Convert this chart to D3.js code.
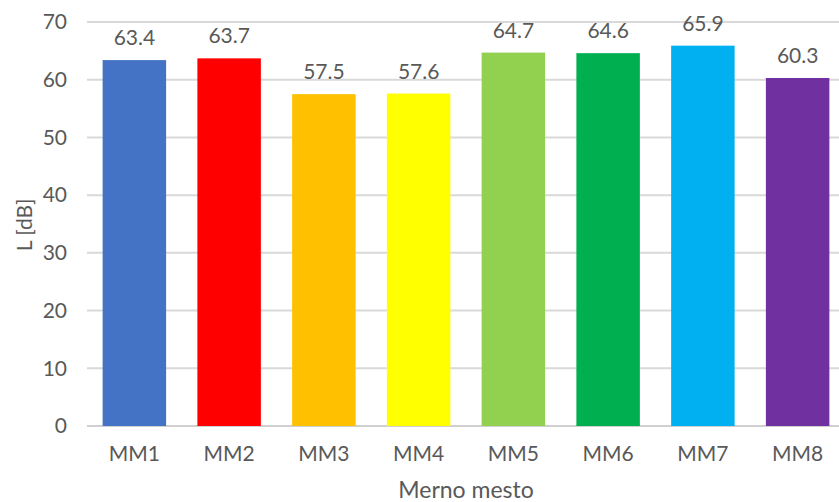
<!DOCTYPE html>
<html>
<head>
<meta charset="utf-8">
<style>
    body { margin: 0; background: white; }
    svg { display: block; font-family: Lato, "Open Sans", sans-serif; }
    .tick text { fill: #595959; }
</style>
<script src="https://cdn.jsdelivr.net/npm/d3@7"></script>
</head>
<body>
<svg id="chart"></svg>
<script>
    // chart data
    let categories = ["MM1", "MM2", "MM3", "MM4", "MM5", "MM6", "MM7", "MM8"]
    let values = [63.4, 63.7, 57.5, 57.6, 64.7, 64.6, 65.9, 60.3]
    let colors = ["#4472C4", "#FF0000", "#FFC000", "#FFFF00", "#92D050", "#00B050", "#00B0F0", "#7030A0"]
    let yTicks = [0, 10, 20, 30, 40, 50, 60, 70]

    let width = 839, height = 502
    let svg = d3.select("#chart").attr("width", width).attr("height", height)

    // plot area runs a bit past the right edge, like the source image
    let x = d3.scaleBand().domain(categories).range([87, 845]).paddingInner(0.33).paddingOuter(0.165)
    let y = d3.scaleLinear().domain([0, 70]).range([426, 22])

    // gridlines
    svg.append("g")
        .selectAll("line")
        .data(yTicks)
        .enter().append("line")
        .attr("x1", 87).attr("x2", 845)
        .attr("y1", d => y(d)).attr("y2", d => y(d))
        .attr("stroke", d => d === 0 ? "#d0d0d0" : "#d9d9d9")
        .attr("stroke-width", 2)

    // y tick labels
    let yAxis = svg.append("g")
        .attr("transform", "translate(67,0)")
        .call(d3.axisLeft(y).tickValues(yTicks).tickSize(0).tickPadding(0))
    yAxis.select(".domain").remove()
    yAxis.selectAll("text").attr("font-size", 21).attr("font-family", "Lato, sans-serif")

    // bars
    svg.append("g")
        .selectAll("rect")
        .data(values)
        .enter().append("rect")
        .attr("x", (d, i) => x(categories[i]))
        .attr("y", d => y(d))
        .attr("width", x.bandwidth())
        .attr("height", d => y(0) - y(d))
        .attr("fill", (d, i) => colors[i])

    // value labels
    svg.append("g")
        .selectAll("text")
        .data(values)
        .enter().append("text")
        .attr("x", (d, i) => x(categories[i]) + x.bandwidth() / 2)
        .attr("y", d => y(d) - 15)
        .attr("text-anchor", "middle")
        .attr("font-size", 21)
        .attr("fill", "#595959")
        .text(d => d.toFixed(1))

    // x tick labels
    let xAxis = svg.append("g")
        .attr("transform", "translate(0,426)")
        .call(d3.axisBottom(x).tickSize(0).tickPadding(20))
    xAxis.select(".domain").remove()
    xAxis.selectAll("text").attr("font-size", 21).attr("font-family", "Lato, sans-serif")

    // axis titles
    svg.append("text")
        .attr("x", 466).attr("y", 498)
        .attr("text-anchor", "middle")
        .attr("font-size", 23)
        .attr("fill", "#595959")
        .text("Merno mesto")

    svg.append("text")
        .attr("transform", "translate(32,225) rotate(-90)")
        .attr("text-anchor", "middle")
        .attr("font-size", 21)
        .attr("fill", "#595959")
        .text("L [dB]")
</script>
</body>
</html>
